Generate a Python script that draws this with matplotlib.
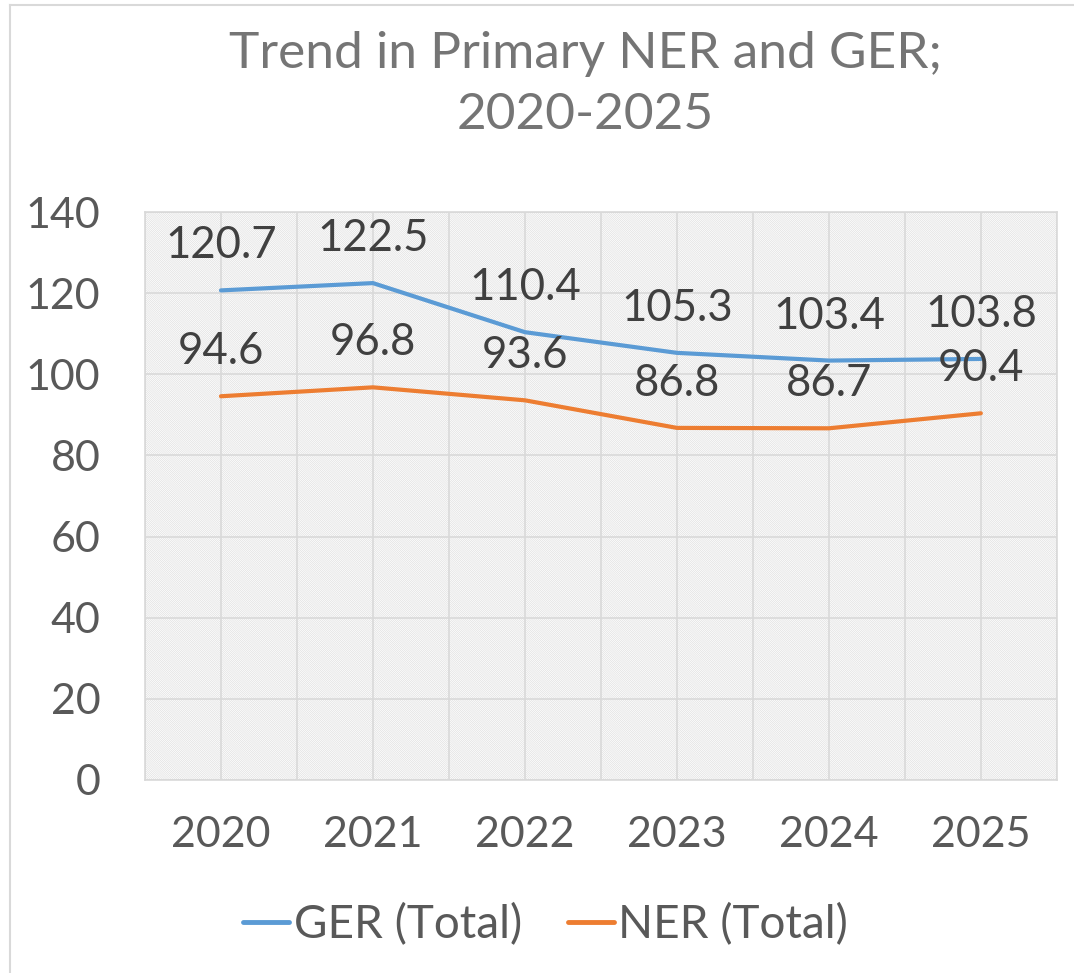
import matplotlib.pyplot as plt
from matplotlib.patches import Rectangle
from matplotlib.lines import Line2D
from matplotlib.ticker import MultipleLocator

# Data
years = ["2020", "2021", "2022", "2023", "2024", "2025"]
ger_total = [120.7, 122.5, 110.4, 105.3, 103.4, 103.8]
ner_total = [94.6, 96.8, 93.6, 86.8, 86.7, 90.4]

plt.rcParams['font.family'] = ['Lato', 'DejaVu Sans']
plt.rcParams['hatch.color'] = '#e0e0e0'
plt.rcParams['hatch.linewidth'] = 0.5

fig = plt.figure(figsize=(10.74, 9.73), dpi=100)
ax = fig.add_axes([0.135, 0.1984, 0.849, 0.5836])

x = list(range(len(years)))

# hatched plot area
ax.patch.set_facecolor('white')
ax.add_patch(Rectangle((0, 0), 1, 1, transform=ax.transAxes, facecolor='white',
                       edgecolor='#e0e0e0', hatch='\\' * 16, lw=0, zorder=0))

ax.plot(x, ger_total, color='#5B9BD5', lw=3, label='GER (Total)', zorder=3, solid_capstyle='round')
ax.plot(x, ner_total, color='#ED7D31', lw=3, label='NER (Total)', zorder=3, solid_capstyle='round')

for xi, v in zip(x, ger_total):
    ax.annotate(f"{v:.1f}", (xi, v), xytext=(0, 32), textcoords='offset points',
                ha='center', va='center', fontsize=31.5, color='#404040', zorder=4)
for xi, v in zip(x, ner_total):
    ax.annotate(f"{v:.1f}", (xi, v), xytext=(0, 32), textcoords='offset points',
                ha='center', va='center', fontsize=31.5, color='#404040', zorder=4)

ax.set_xlim(-0.5, len(years) - 0.5)
ax.set_ylim(0, 140)
ax.yaxis.set_major_locator(MultipleLocator(20))
ax.set_xticks(x)
ax.set_xticklabels(years)
ax.set_xticks([i - 0.5 for i in range(len(years) + 1)], minor=True)

ax.grid(True, which='major', axis='y', color='#d9d9d9', lw=1.2, zorder=1)
ax.grid(True, which='both', axis='x', color='#d9d9d9', lw=1.2, zorder=1)
ax.set_axisbelow(True)

ax.tick_params(axis='both', which='both', length=0, labelsize=31, labelcolor='#595959')
ax.tick_params(axis='x', pad=26)
ax.tick_params(axis='y', pad=32)
for s in ax.spines.values():
    s.set_color('#d9d9d9')
    s.set_linewidth(1.2)

fig.text(0.545, 0.913, "Trend in Primary NER and GER;\n2020-2025", ha='center', va='center',
         fontsize=37, color='#757575', linespacing=1.42)

ax.legend(loc='center', bbox_to_anchor=(0.508, 0.05), bbox_transform=fig.transFigure, ncol=2,
          frameon=False, fontsize=33, labelcolor='#595959', handlelength=1.0,
          handletextpad=0.1, columnspacing=1.0)
for lh in ax.get_legend().get_lines():
    lh.set_linewidth(3.5)

# chart border
fig.add_artist(Line2D([10 / 1074, 10 / 1074], [0, 1 - 5 / 973], transform=fig.transFigure,
                      color='#d9d9d9', lw=1.5))
fig.add_artist(Line2D([10 / 1074, 1], [1 - 5 / 973, 1 - 5 / 973], transform=fig.transFigure,
                      color='#d9d9d9', lw=1.5))

fig.savefig("out.png", dpi=100)
